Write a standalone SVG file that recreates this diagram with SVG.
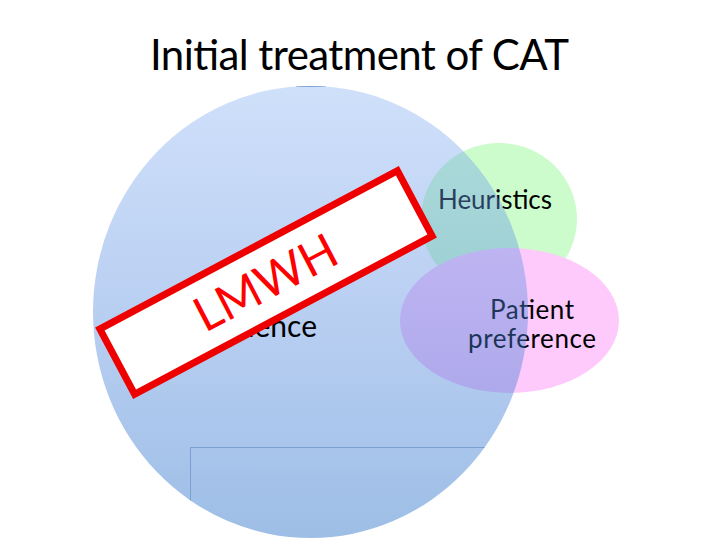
<svg xmlns="http://www.w3.org/2000/svg" width="720" height="540" viewBox="0 0 720 540">
<style>
.t{font-family:Lato,"Liberation Sans",sans-serif;}
.dim{fill:#000;}
</style>
<defs>
<linearGradient id="bg" x1="0" y1="0" x2="0" y2="1">
<stop offset="0" stop-color="#87b1f2"/>
<stop offset="0.5" stop-color="#5087de"/>
<stop offset="1" stop-color="#0a5cc0"/>
</linearGradient>
<clipPath id="bigclip"><ellipse cx="310.5" cy="312" rx="217.5" ry="226"/></clipPath>
</defs>
<rect width="720" height="540" fill="#fff"/>
<text class="t" x="150" y="70" font-size="42" textLength="419" fill="#000">Initial treatment of CAT</text>
<g id="heuristics">
<ellipse cx="499" cy="219" rx="78" ry="76" fill="#ccfccc"/>
<text class="t" x="438" y="209" font-size="26" textLength="114" fill="#000">Heuristics</text>
</g>
<g id="patient">
<ellipse cx="509.5" cy="320.5" rx="109.5" ry="72.5" fill="#fdcafb"/>
<text class="t" x="490" y="319" font-size="26" textLength="84" fill="#000">Patient</text>
<text class="t" x="468" y="348" font-size="26" textLength="128" fill="#000">preference</text>
</g>
<g id="evidence">
<ellipse cx="310.5" cy="312" rx="217.5" ry="226" fill="url(#bg)" fill-opacity="0.4"/>
<g clip-path="url(#bigclip)" stroke="#7c9fd2" stroke-width="1" fill="none">
<path d="M190.5 540 V447.5 H540"/>
<path d="M296 86.5 H326"/>
</g>
<text class="t" x="317" y="337" font-size="30" text-anchor="end" fill="#000">Evidence</text>
</g>
<g id="stamp" transform="translate(266,282.5) rotate(-28)">
<rect x="-168.5" y="-37" width="337" height="74" fill="#fff" stroke="#ee0000" stroke-width="7"/>
</g>
<g id="lmwh-label">
<text class="t" transform="translate(205,333) rotate(-27.5)" x="0" y="0" font-size="48" textLength="154" lengthAdjust="spacingAndGlyphs" fill="#ff0000">LMWH</text>
</g>
<g id="connectors"/>
</svg>
